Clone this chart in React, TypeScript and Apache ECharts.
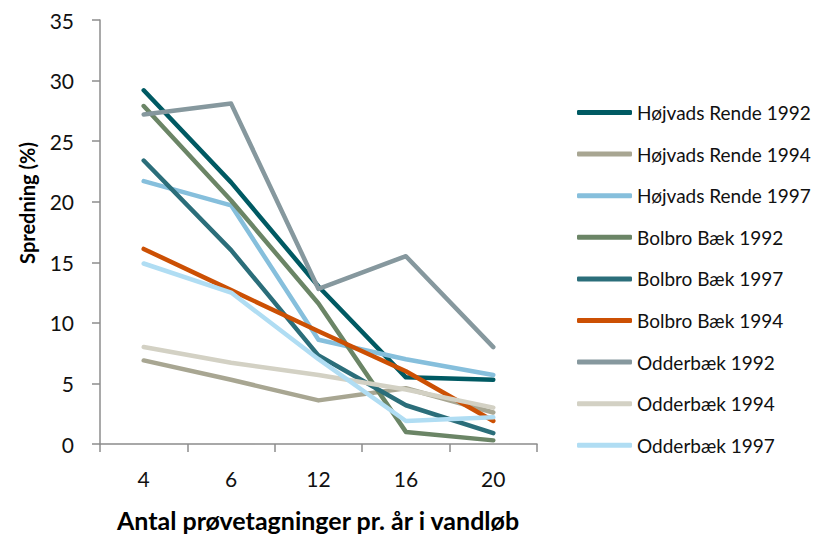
import React, { useEffect, useRef } from "react";
import * as echarts from "echarts";

// Sampling frequency (samples per year) on the category axis
const categories = ["4", "6", "12", "16", "20"];

// Spread (%) per stream and year
const hojvads1992 = [29.2, 21.6, 13.0, 5.5, 5.3];
const hojvads1994 = [6.9, 5.3, 3.6, 4.6, 2.6];
const hojvads1997 = [21.7, 19.7, 8.6, 7.0, 5.7];
const bolbro1992 = [27.9, 20.1, 11.6, 1.0, 0.3];
const bolbro1997 = [23.4, 16.0, 7.3, 3.2, 0.9];
const bolbro1994 = [16.1, 12.7, 9.3, 6.0, 1.9];
const odder1992 = [27.2, 28.1, 12.8, 15.5, 8.0];
const odder1994 = [8.0, 6.7, 5.7, 4.5, 3.0];
const odder1997 = [14.9, 12.5, 7.0, 1.9, 2.2];

const seriesDefs = [
  { name: "Højvads Rende 1992", data: hojvads1992, color: "#005A63" },
  { name: "Højvads Rende 1994", data: hojvads1994, color: "#A8A692" },
  { name: "Højvads Rende 1997", data: hojvads1997, color: "#86BFDC" },
  { name: "Bolbro Bæk 1992", data: bolbro1992, color: "#6B8566" },
  { name: "Bolbro Bæk 1997", data: bolbro1997, color: "#2B6E7A" },
  { name: "Bolbro Bæk 1994", data: bolbro1994, color: "#CC5004" },
  { name: "Odderbæk 1992", data: odder1992, color: "#86989E" },
  { name: "Odderbæk 1994", data: odder1994, color: "#D3D1C4" },
  { name: "Odderbæk 1997", data: odder1997, color: "#B0DDF3" },
];

const FONT = "Lato, 'Noto Sans', sans-serif";

export default function App() {
  const ref = useRef<HTMLDivElement>(null);

  useEffect(() => {
    if (!ref.current) return;
    const chart = echarts.init(ref.current, undefined, { renderer: "svg" });
    chart.setOption({
      animation: false,
      backgroundColor: "#ffffff",
      textStyle: { fontFamily: FONT },
      grid: { left: 100, right: 277, top: 20, bottom: 90, containLabel: false },
      xAxis: {
        type: "category",
        data: categories,
        boundaryGap: true,
        axisLine: { lineStyle: { color: "#8C8C8C", width: 1.5 } },
        axisTick: { show: true, length: 8, lineStyle: { color: "#8C8C8C", width: 1.5 } },
        axisLabel: { color: "#111111", fontSize: 21, margin: 24, fontFamily: FONT },
        splitLine: { show: false },
      },
      yAxis: {
        type: "value",
        min: 0,
        max: 35,
        interval: 5,
        axisLine: { show: true, lineStyle: { color: "#8C8C8C", width: 1.5 } },
        axisTick: { show: true, length: 8, lineStyle: { color: "#8C8C8C", width: 1.5 } },
        axisLabel: { color: "#111111", fontSize: 21, margin: 26, fontFamily: FONT },
        splitLine: { show: false },
      },
      legend: {
        orient: "vertical",
        left: 572,
        top: 98,
        itemWidth: 55,
        itemHeight: 5,
        itemGap: 22.6,
        icon: "roundRect",
        textStyle: { fontSize: 19, color: "#111111", fontFamily: FONT },
        data: seriesDefs.map((s) => s.name),
      },
      graphic: [
        {
          type: "text",
          x: 27,
          y: 203,
          rotation: Math.PI / 2,
          style: {
            text: "Spredning (%)",
            font: `bold 20px ${FONT}`,
            fill: "#000000",
            align: "center",
            verticalAlign: "middle",
          },
        },
        {
          type: "text",
          x: 318,
          y: 520,
          style: {
            text: "Antal prøvetagninger pr. år i vandløb",
            font: `bold 25px ${FONT}`,
            fill: "#000000",
            align: "center",
            verticalAlign: "middle",
          },
        },
      ],
      series: seriesDefs.map((s) => ({
        name: s.name,
        type: "line",
        data: s.data,
        symbol: "none",
        showSymbol: false,
        smooth: false,
        color: s.color,
        lineStyle: { color: s.color, width: 4.5, cap: "round", join: "round" },
        itemStyle: { color: s.color },
      })),
    });
    return () => chart.dispose();
  }, []);

  return (
    <div
      ref={ref}
      style={{ position: "fixed", left: 0, top: 0, width: 814, height: 534 }}
    />
  );
}
